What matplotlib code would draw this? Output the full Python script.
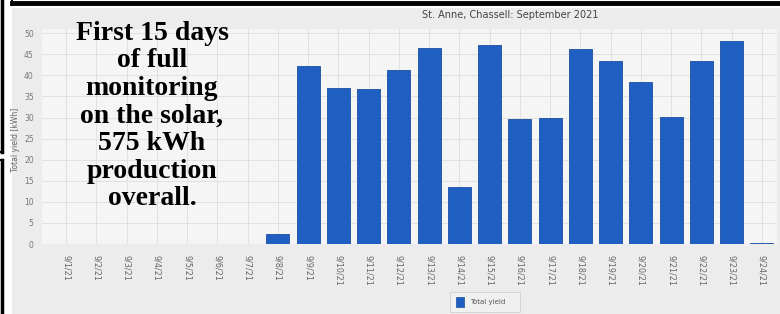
import matplotlib.pyplot as plt
from matplotlib.lines import Line2D
from matplotlib.patches import Rectangle

days = [f"9/{d}/21" for d in range(1, 25)]
yield_kwh = [0, 0, 0, 0, 0, 0, 0, 2.3, 42.2, 37.0, 36.7, 41.2, 46.4, 13.5,
             47.2, 29.6, 29.9, 46.2, 43.4, 38.4, 30.1, 43.4, 48.1, 0.3]
y_ticks = [0, 5, 10, 15, 20, 25, 30, 35, 40, 45, 50]

title = "St. Anne, Chassell: September 2021"
note = "First 15 days\nof full\nmonitoring\non the solar,\n575 kWh\nproduction\noverall."

W, H = 780, 314


def fx(x):
    return x / W


def fy(y):
    return 1 - y / H


fig = plt.figure(figsize=(7.8, 3.14), dpi=100)
fig.patch.set_facecolor("white")

# screenshot panel (behind the axes)
fig.add_artist(Rectangle((fx(12), 0), 1 - fx(12), fy(8), transform=fig.transFigure,
                         facecolor="#ececec", edgecolor="none", zorder=-10))

ax = fig.add_axes([fx(42), fy(244), fx(777) - fx(42), fy(29) - fy(244)])
ax.set_zorder(1)
ax.set_facecolor("#f5f5f5")
x = list(range(len(days)))
ax.bar(x, yield_kwh, width=0.76, color="#1f5fc2", edgecolor="#1a4f9f", linewidth=0.6,
       zorder=3, label="Total yield")
ax.set_xlim(-0.8, 23.5)
ax.set_ylim(0, 51)
ax.set_yticks(y_ticks)
ax.set_xticks(x)
ax.set_xticklabels(days, rotation=-90, fontsize=5.8, color="#666666")
ax.tick_params(axis="y", labelsize=5.5, colors="#777777", length=0, pad=6)
ax.tick_params(axis="x", length=0, pad=8)
ax.grid(True, color="#dedede", linewidth=0.6, zorder=0)
for s in ax.spines.values():
    s.set_visible(False)
ax.axhline(0, color="#cfcfcf", linewidth=0.8, zorder=2)

fig.text(fx(16), fy(140), "Total yield [kWh]", rotation=90, fontsize=5.5,
         color="#666666", ha="center", va="center")
fig.text(fx(510), fy(15), title, fontsize=7, color="#444444", ha="center", va="center")

# legend
fig.add_artist(Rectangle((fx(450), fy(312)), fx(70), 20 / H, transform=fig.transFigure,
                         facecolor="#f0f0f0", edgecolor="#d0d0d0", linewidth=0.6, zorder=2))
fig.add_artist(Rectangle((fx(456), fy(307)), fx(8), 10 / H, transform=fig.transFigure,
                         facecolor="#1f5fc2", edgecolor="#1a4f9f", linewidth=0.5, zorder=2))
fig.text(fx(470), fy(302), "Total yield", fontsize=5, color="#555555", ha="left", va="center")

# overlay note
fig.text(fx(152), fy(116), note, fontsize=20, fontweight="bold", family="Liberation Serif",
         color="black", ha="center", va="center", linespacing=1.14, zorder=5)

# black frame pieces
lw = 2.5
fig.add_artist(Line2D([fx(12), 1], [fy(2.5), fy(2.5)], color="black", lw=lw + 1, transform=fig.transFigure))
fig.add_artist(Line2D([fx(12), fx(12)], [1, fy(5)], color="black", lw=1.5, transform=fig.transFigure))
fig.add_artist(Line2D([fx(2), fx(2)], [1, fy(152)], color="black", lw=lw, transform=fig.transFigure))
fig.add_artist(Line2D([0, fx(3)], [fy(152), fy(152)], color="black", lw=1.5, transform=fig.transFigure))
fig.add_artist(Line2D([fx(2), fx(2)], [fy(160), 0], color="black", lw=lw, transform=fig.transFigure))
fig.add_artist(Line2D([0, fx(3)], [fy(160), fy(160)], color="black", lw=1.5, transform=fig.transFigure))

fig.savefig("out.png", dpi=100)
